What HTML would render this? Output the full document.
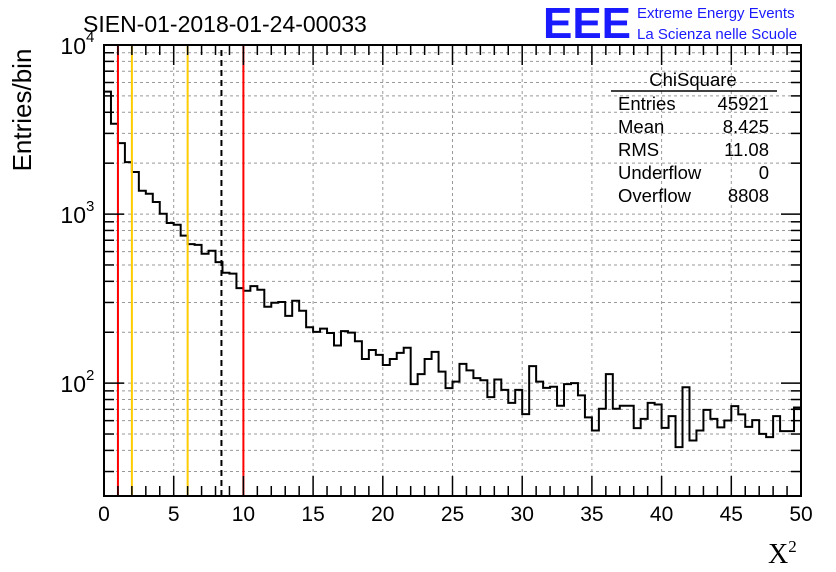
<!DOCTYPE html>
<html><head><meta charset="utf-8"><style>
body{margin:0;background:#fff}
svg{display:block;font-family:"Liberation Sans",sans-serif}
</style></head><body>
<svg id="c" width="836" height="572">
<text x="83" y="32" font-size="23">SIEN-01-2018-01-24-00033</text>
<text x="543" y="38" font-size="44" font-weight="bold" fill="#1a1aff" textLength="88" lengthAdjust="spacingAndGlyphs">EEE</text>
<text x="637" y="18" font-size="15" fill="#1a1aff">Extreme Energy Events</text>
<text x="637" y="39" font-size="15" fill="#1a1aff">La Scienza nelle Scuole</text>
<text transform="translate(31,110) rotate(-90)" text-anchor="middle" font-size="26">Entries/bin</text>
<text x="768" y="563" font-family="Liberation Serif,serif" font-size="28">X<tspan font-size="17" dy="-11">2</tspan></text>
<g id="grid"></g><g id="marks"></g><g id="axes"></g>
<g font-size="18.5">
<text x="693" y="86" text-anchor="middle">ChiSquare</text>
<line x1="611" y1="91" x2="777" y2="91" stroke="#000" stroke-width="1.5"/>
<text x="618" y="110">Entries</text><text x="769" y="110" text-anchor="end">45921</text>
<text x="618" y="133">Mean</text><text x="769" y="133" text-anchor="end">8.425</text>
<text x="618" y="156">RMS</text><text x="769" y="156" text-anchor="end">11.08</text>
<text x="618" y="179">Underflow</text><text x="769" y="179" text-anchor="end">0</text>
<text x="618" y="202">Overflow</text><text x="769" y="202" text-anchor="end">8808</text>
</g>
</svg>
<script>
const counts=[5300,3420,2630,2030,1774,1374,1318,1178,1005,885,865,745,664,657,582,607,520,450,444,365,352,375,357,283,299,302,250,307,268,214,201,210,198,167,203,199,177,139,157,147,128,139,151,162,98.6,113,139,153,117,93.4,102,130,119,107,104,82.6,105,91.2,76.4,91.2,65.6,126,102,93.8,95.2,73.5,98.6,100,84.6,62.7,52.5,70.5,113,70.5,73.5,73.5,54.2,61.5,76.4,74.8,54.4,63.8,41.8,94.6,45.8,52.5,69.5,61.5,54.7,60.1,73.1,65.3,55.1,60.4,50.1,47.9,63.8,52,52,71.8];
const xTicks=[0,5,10,15,20,25,30,35,40,45,50];
const yDecades=[2,3,4];
const redLines=[1,10];
const orangeLines=[2,6];
const meanLine=[8.425];
const X0=104,X1=801,Y0=496,Y1=45,xmin=0,xmax=50,ymin=Math.log10(21.5),ymax=4,binW=0.5;
const sx=v=>X0+(v-xmin)/(xmax-xmin)*(X1-X0);
const sy=v=>Y0-(Math.log10(v)-ymin)/(ymax-ymin)*(Y0-Y1);
const NS="http://www.w3.org/2000/svg";
function mk(p,t,a){const e=document.createElementNS(NS,t);for(const k in a)e.setAttribute(k,a[k]);document.getElementById(p).appendChild(e);return e;}
xTicks.forEach(t=>{if(t>0&&t<50){const e=mk('grid','line',{x1:sx(t),x2:sx(t),y1:Y0,y2:Y1,stroke:'#999','stroke-dasharray':'3,3'});

}});
for(let d=1;d<=3;d++)for(let m=1;m<=9;m++){const v=m*Math.pow(10,d);if(v<21.5||v>=10000)continue;const y=sy(v);
const e=mk('grid','line',{x1:X0,x2:X1,y1:y,y2:y,stroke:'#999','stroke-dasharray':'3,3'});


const t1=mk('axes','line',{x1:X0,x2:X0+(m==1?20:10),y1:y,y2:y,stroke:'#000','stroke-width':1.5});


const t2=mk('axes','line',{x1:X1,x2:X1-(m==1?20:10),y1:y,y2:y,stroke:'#000','stroke-width':1.5});

}
let d='M'+sx(0)+','+Y0;
counts.forEach((c,i)=>{const y=sy(c);d+=' L'+sx(i*binW)+','+y+' L'+sx((i+1)*binW)+','+y;});
d+=' L'+sx(50)+','+Y0;
const h=mk('marks','path',{d:d,fill:'none',stroke:'#000','stroke-width':2});


function vline(v,col,name,dash){const e=mk('marks','line',{x1:sx(v),x2:sx(v),y1:Y0,y2:Y1,stroke:col,'stroke-width':2});if(dash)e.setAttribute('stroke-dasharray',dash);

}
redLines.forEach(v=>vline(v,'#f00','red-cut-line'));
orangeLines.forEach(v=>vline(v,'#fc0','orange-cut-line'));
meanLine.forEach(v=>vline(v,'#000','mean-line','6,4'));
const f=mk('axes','rect',{x:X0,y:Y1,width:X1-X0,height:Y0-Y1,fill:'none',stroke:'#000','stroke-width':2});


for(let t=0;t<=50;t++){const x=sx(t),L=t%5==0?20:10;
const a=mk('axes','line',{x1:x,x2:x,y1:Y0,y2:Y0-L,stroke:'#000','stroke-width':1.5});


const b=mk('axes','line',{x1:x,x2:x,y1:Y1,y2:Y1+L,stroke:'#000','stroke-width':1.5});

}
xTicks.forEach(t=>{const e=mk('axes','text',{x:sx(t),y:521,'text-anchor':'middle','font-size':21});e.textContent=t;

});
yDecades.forEach(p=>{const e=mk('axes','text',{x:86,y:sy(Math.pow(10,p))+9,'text-anchor':'end','font-size':23});e.textContent='10';


const s=mk('axes','text',{x:86,y:sy(Math.pow(10,p))-3,'font-size':15});s.textContent=p;});
</script>
</body></html>
